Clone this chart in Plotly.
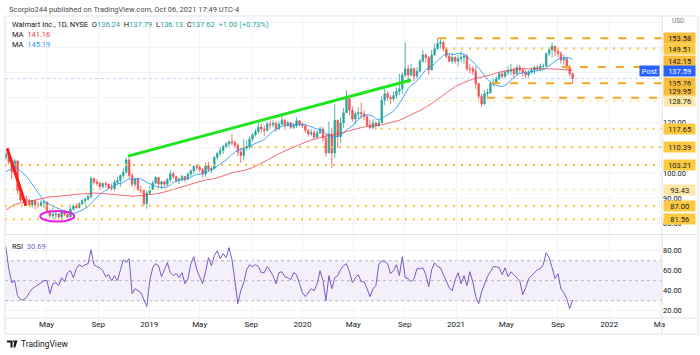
import pandas as pd
import plotly.graph_objects as go

# ---------------- data (weekly bars) ----------------
week_start = "2018-01-24"

# closes before the visible window, only used to warm up the moving averages
pre_close = [75.5, 75.8, 75.5, 78.5, 79.5, 79.0, 78.5, 77.5, 75.5, 75.6,
             75.5, 77.0, 76.5, 79.5, 80.5, 80.5, 80.5, 78.5, 78.0, 79.5,
             79.5, 80.0, 78.0, 80.0, 86.0, 86.5, 87.0, 88.0, 89.5, 97.0,
             97.5, 97.5, 96.0, 98.0, 99.5, 99.0, 100.5, 103.0, 106.0]

close = [107.5, 104.6, 100.5, 104.8, 93.0, 89.3, 89.5, 89.2, 87.3, 89.0,
         87.4, 87.0, 88.3, 88.5, 85.0, 83.0, 83.5, 83.7, 82.5, 84.5,
         83.5, 82.5, 85.6, 86.8, 86.3, 87.7, 89.0, 89.5, 90.6, 97.8,
         96.4, 95.9, 94.6, 95.8, 95.5, 94.0, 93.8, 96.3, 97.0, 99.0,
         100.3, 105.2, 99.0, 95.5, 97.6, 93.5, 93.0, 87.8, 92.0, 93.5,
         96.0, 98.2, 95.6, 96.5, 95.5, 97.3, 99.7, 98.6, 97.0, 97.5,
         98.6, 97.6, 99.6, 100.8, 102.6, 102.3, 101.3, 99.6, 102.8, 101.3,
         101.8, 106.2, 107.8, 109.0, 110.5, 111.6, 112.4, 112.0, 111.0, 108.3,
         107.0, 110.0, 110.5, 113.5, 115.2, 116.5, 118.3, 117.5, 117.0, 119.5,
         119.2, 119.8, 117.6, 119.5, 121.0, 119.2, 120.0, 118.2, 118.8, 120.8,
         119.3, 118.8, 117.0, 115.5, 116.0, 114.3, 116.0, 117.5, 114.0, 108.0,
         115.5, 108.0, 121.0, 114.5, 120.0, 124.0, 129.5, 125.0, 121.5, 123.5,
         124.0, 123.5, 122.5, 119.0, 118.0, 119.8, 118.8, 120.0, 129.0, 131.5,
         130.0, 129.5, 130.8, 132.5, 133.5, 139.0, 141.5, 139.0, 141.5, 138.5,
         140.5, 144.5, 147.0, 146.0, 141.0, 147.0, 149.5, 151.5, 152.0, 149.5,
         146.5, 144.5, 146.0, 144.5, 145.5, 146.0, 146.5, 141.5, 141.5, 140.5,
         135.5, 130.5, 127.5, 131.5, 132.0, 135.5, 136.0, 137.5, 139.5, 138.5,
         140.0, 140.5, 141.0, 139.5, 142.0, 141.0, 140.0, 139.0, 140.0, 141.0,
         142.0, 141.5, 142.5, 142.5, 147.5, 149.0, 150.5, 148.5, 147.5, 145.0,
         145.5, 142.0, 139.5, 137.62]

high = [108.6, 110.0, 106.0, 105.5, 105.0, 93.5, 90.8, 91.0, 89.5, 89.3,
        89.0, 88.5, 89.2, 89.0, 88.5, 85.5, 86.4, 84.5, 84.0, 85.0,
        85.3, 84.0, 86.5, 87.5, 88.0, 88.4, 89.5, 90.2, 91.5, 98.6,
        98.2, 97.6, 96.4, 96.2, 96.6, 95.8, 95.8, 97.2, 98.5, 99.5,
        101.8, 106.2, 106.0, 100.0, 98.0, 98.2, 95.0, 93.5, 93.0, 94.8,
        97.0, 98.6, 98.3, 96.8, 97.0, 98.0, 101.1, 100.5, 99.0, 98.2,
        99.2, 98.8, 100.2, 101.5, 103.2, 103.6, 103.0, 102.0, 104.2, 104.5,
        102.5, 106.8, 108.5, 110.2, 111.2, 112.2, 113.0, 115.5, 113.0, 111.8,
        110.0, 113.5, 113.0, 114.5, 115.8, 117.5, 120.0, 119.5, 119.0, 120.5,
        120.8, 121.0, 120.5, 120.5, 123.5, 121.5, 120.8, 120.2, 120.0, 122.2,
        121.0, 120.2, 119.0, 117.2, 117.5, 117.2, 117.0, 118.5, 118.5, 115.5,
        120.5, 118.0, 127.5, 121.0, 122.0, 126.0, 133.0, 130.5, 126.5, 124.5,
        126.0, 128.0, 125.0, 123.0, 121.0, 121.5, 120.5, 121.5, 130.5, 133.5,
        132.5, 131.0, 132.5, 134.0, 139.5, 140.0, 152.0, 143.0, 143.5, 142.0,
        142.0, 145.5, 149.0, 147.5, 146.5, 149.0, 151.5, 153.7, 153.3, 152.5,
        150.0, 147.5, 147.5, 146.5, 147.0, 148.5, 147.5, 147.5, 143.5, 142.5,
        142.5, 136.0, 131.5, 133.0, 133.5, 136.5, 137.5, 138.5, 140.5, 140.5,
        141.0, 142.5, 143.5, 142.0, 143.0, 143.0, 141.5, 141.0, 141.0, 142.0,
        142.8, 143.0, 143.5, 143.5, 148.0, 150.0, 152.0, 150.5, 149.5, 148.5,
        147.0, 146.0, 143.0, 140.0]

low = [105.0, 103.5, 97.5, 100.0, 91.5, 88.5, 88.0, 88.5, 86.3, 86.2,
       85.6, 86.2, 86.6, 86.0, 84.0, 82.0, 81.9, 81.8, 81.8, 82.0,
       82.8, 81.8, 82.3, 85.0, 85.8, 86.0, 87.3, 87.6, 89.0, 89.8,
       95.4, 95.0, 93.4, 93.8, 94.2, 93.6, 93.0, 92.8, 95.0, 94.5,
       97.8, 100.0, 98.0, 94.5, 94.5, 92.8, 91.8, 86.8, 85.8, 91.3,
       93.5, 95.5, 94.3, 93.6, 94.5, 94.8, 96.4, 97.6, 96.2, 95.6,
       96.5, 96.4, 97.4, 98.8, 99.8, 101.0, 100.5, 98.2, 98.5, 100.8,
       100.0, 101.5, 105.3, 106.8, 107.5, 110.0, 110.2, 111.0, 109.8, 106.8,
       104.0, 105.0, 109.0, 109.5, 112.5, 114.5, 115.8, 116.2, 114.8, 116.3,
       117.5, 118.2, 116.5, 117.0, 118.8, 117.2, 118.5, 117.5, 117.5, 118.0,
       118.5, 118.0, 116.0, 114.5, 114.8, 113.5, 113.8, 115.5, 112.5, 106.5,
       108.0, 102.0, 106.0, 110.0, 112.0, 118.0, 124.0, 123.0, 120.5, 119.5,
       121.5, 121.5, 121.0, 118.3, 117.5, 117.5, 117.2, 118.5, 120.0, 127.0,
       128.5, 127.5, 128.5, 129.5, 131.0, 131.5, 138.0, 135.5, 138.5, 136.5,
       137.5, 140.0, 144.0, 144.0, 139.0, 141.0, 146.5, 149.0, 149.5, 148.5,
       145.5, 144.0, 143.5, 143.5, 142.5, 144.0, 143.5, 140.5, 139.5, 139.0,
       133.5, 129.5, 126.3, 127.0, 130.0, 131.5, 134.5, 135.5, 137.0, 137.5,
       138.0, 139.0, 139.0, 137.5, 139.0, 139.5, 138.5, 137.5, 138.0, 139.5,
       139.5, 140.5, 140.5, 141.5, 142.5, 146.5, 146.0, 146.5, 146.0, 143.5,
       143.0, 141.0, 138.5, 135.5]

rsi = [84, 62, 48, 50, 35, 31, 31, 33, 38, 42,
       44, 46, 48, 50, 50, 37, 47, 48, 45, 53,
       49, 58, 60, 53, 62, 66, 64, 66, 67, 81,
       66, 64, 63, 60, 54, 56, 50, 55, 50, 61,
       71, 68, 72, 37, 42, 40, 38, 31, 24, 50,
       63, 67, 65, 54, 62, 68, 58, 55, 57, 53,
       58, 47, 52, 67, 74, 61, 54, 47, 59, 73,
       65, 75, 80, 72, 77, 73, 83, 71, 50, 27,
       40, 48, 61, 66, 64, 66, 64, 58, 58, 64,
       60, 55, 47, 58, 59, 54, 53, 51, 58, 56,
       47, 38, 34, 38, 42, 40, 47, 60, 50, 30,
       55, 42, 53, 55, 61, 65, 67, 59,
       48, 53, 56, 49, 49, 42, 34, 42, 45, 66,
       70, 69, 67, 57, 60, 66, 55, 74, 53, 52,
       49, 52, 62, 62, 63, 56, 44, 61, 68, 64,
       63, 56, 49, 43, 40, 51, 58, 47, 55, 45,
       59, 49, 34, 27, 39, 47, 54, 59, 64, 64,
       63, 56, 63, 54, 59, 56, 53, 50, 36, 43,
       52, 55, 58, 61, 62, 66, 78, 73, 63, 52,
       57, 42, 38, 32, 22, 30.69]

tick_dates = ["2018-05-01", "2018-09-01", "2019-01-01", "2019-05-01", "2019-09-01",
              "2020-01-01", "2020-05-01", "2020-09-01", "2021-01-01", "2021-05-01",
              "2021-09-01", "2022-01-01", "2022-05-01"]
tick_text = ["May", "Sep", "2019", "May", "Sep", "2020", "May", "Sep", "2021",
             "May", "Sep", "2022", "Ma"]
price_ticks = [80, 90, 100, 120]
price_grid = [80, 90, 100, 110, 120, 130, 140, 150, 160]
rsi_ticks = [20, 40, 60, 80]

# horizontal support / resistance levels and the date each one starts
level_prices = [153.58, 149.51, 142.15, 135.76, 129.95, 128.76, 117.65,
                110.39, 103.21, 93.43, 87.00, 81.56]
level_starts = ["2020-11-20", "2020-12-06", "2021-09-10", "2021-03-28", "2021-03-16",
                "2020-08-14", "2020-07-05", "2019-08-12", "2018-01-22", "2018-01-22",
                "2018-01-22", "2018-01-22"]

post_price = 137.59

red_trend_dates = ["2018-01-27", "2018-03-13"]
red_trend_prices = [109.8, 87.0]
green_trend_dates = ["2018-11-11", "2020-09-16"]
green_trend_prices = [106.7, 137.0]
ellipse_dates = ["2018-04-16", "2018-07-06"]
ellipse_prices = [80.7, 84.9]

# ---------------- styling ----------------
x_range = ["2018-01-22", "2022-05-07"]
price_range = [76.12, 162.48]
rsi_range = [12.7, 94.7]

W, H = 700, 355
ML, MR, MT, MB = 5, 38, 16, 37
FONT = "Roboto, 'Liberation Sans', Arial, sans-serif"
TXT = "#131722"
GRID = "#f0f3fa"
FRAME = "#e0e3eb"


def px(x):
    return (x - ML) / (W - ML - MR)


def py(y):
    return (H - MB - y) / (H - MT - MB)


DASH_LINE, DOT_LINE, LIGHT_LINE = "#f6a623", "#fbc02d", "#fde3a0"
DASH_BOX, DOT_BOX, LIGHT_BOX = "#f8bd3c", "#fcca40", "#fee7a6"
level_style = {153.58: "dash", 149.51: "dot", 142.15: "dash", 135.76: "dash",
               129.95: "dash", 128.76: "light", 117.65: "dot", 110.39: "dot",
               103.21: "dot", 93.43: "light", 87.00: "dot", 81.56: "dot"}
label_shift = {142.15: 6.4, 129.95: 7.0}

# ---------------- derived table ----------------
dates = pd.date_range(week_start, periods=len(close), freq="W-WED")
all_close = pd.Series(pre_close + close, dtype=float)
n_pre = len(pre_close)
open_ = all_close.shift(1).iloc[n_pre:].tolist()     # each weekly bar opens at the prior close
ma_fast = all_close.rolling(10).mean().iloc[n_pre:].tolist()   # ~50-day MA
ma_slow = all_close.rolling(40).mean().iloc[n_pre:].tolist()   # ~200-day MA

fig = go.Figure()

fig.add_trace(go.Scatter(x=dates, y=ma_slow, mode="lines", xaxis="x", yaxis="y",
                         line=dict(color="rgba(242,54,69,0.75)", width=1), hoverinfo="skip"))
fig.add_trace(go.Scatter(x=dates, y=ma_fast, mode="lines", xaxis="x", yaxis="y",
                         line=dict(color="rgba(33,150,243,0.85)", width=1), hoverinfo="skip"))
fig.add_trace(go.Candlestick(x=dates, open=open_, high=high, low=low, close=close,
                             xaxis="x", yaxis="y",
                             increasing=dict(line=dict(color="#26a69a", width=0.8), fillcolor="#26a69a"),
                             decreasing=dict(line=dict(color="#ef5350", width=0.8), fillcolor="#ef5350"),
                             whiskerwidth=0, hoverinfo="skip"))
fig.add_trace(go.Scatter(x=dates, y=rsi, mode="lines", xaxis="x2", yaxis="y2",
                         line=dict(color="#7e57c2", width=1), hoverinfo="skip"))

shapes = []
# faint price grid
for g in price_grid:
    shapes.append(dict(type="line", xref="paper", x0=0, x1=1, yref="y", y0=g, y1=g,
                       line=dict(color=GRID, width=1), layer="below"))
# RSI band and levels
shapes.append(dict(type="rect", xref="paper", x0=0, x1=1, yref="y2", y0=30, y1=70,
                   fillcolor="rgba(126,87,194,0.09)", line=dict(width=0), layer="below"))
for lv in (70, 50, 30):
    shapes.append(dict(type="line", xref="paper", x0=0, x1=1, yref="y2", y0=lv, y1=lv,
                       line=dict(color="#b2b5be", width=1, dash="3px,3px"), layer="below"))

# horizontal price levels
for p, s in zip(level_prices, level_starts):
    kind = level_style[p]
    if kind == "dash":
        ln = dict(color=DASH_LINE, width=2, dash="8px,10px")
    elif kind == "dot":
        ln = dict(color=DOT_LINE, width=2, dash="2px,6px")
    else:
        ln = dict(color=LIGHT_LINE, width=2, dash="2px,6px")
    shapes.append(dict(type="line", xref="x", x0=s, x1=x_range[1], yref="y", y0=p, y1=p, line=ln))

# post-market price line
shapes.append(dict(type="line", xref="paper", x0=0, x1=1, yref="y", y0=post_price, y1=post_price,
                   line=dict(color="rgba(41,98,255,0.3)", width=1, dash="dot")))

# drawings
shapes.append(dict(type="line", xref="x", yref="y",
                   x0=red_trend_dates[0], x1=red_trend_dates[1],
                   y0=red_trend_prices[0], y1=red_trend_prices[1],
                   line=dict(color="#ff1a1a", width=3)))
shapes.append(dict(type="line", xref="x", yref="y",
                   x0=green_trend_dates[0], x1=green_trend_dates[1],
                   y0=green_trend_prices[0], y1=green_trend_prices[1],
                   line=dict(color="#1ee61e", width=3)))
shapes.append(dict(type="circle", xref="x", yref="y",
                   x0=ellipse_dates[0], x1=ellipse_dates[1],
                   y0=ellipse_prices[0], y1=ellipse_prices[1],
                   line=dict(color="#e61ee6", width=2)))

# frame
fr = dict(xref="paper", yref="paper", line=dict(color=FRAME, width=1))
shapes.append(dict(type="rect", x0=px(5), x1=px(698), y0=py(16), y1=py(334), **fr))
shapes.append(dict(type="line", x0=px(662), x1=px(662), y0=py(16), y1=py(334), **fr))
shapes.append(dict(type="line", x0=px(5), x1=px(698), y0=py(234.5), y1=py(234.5), **fr))
shapes.append(dict(type="line", x0=px(5), x1=px(698), y0=py(318), y1=py(318), **fr))

# TradingView logo glyph
shapes.append(dict(type="path", xref="paper", yref="paper",
                   path=f"M {px(7)},{py(340.5)} L {px(12.5)},{py(340.5)} L {px(12.5)},{py(347.5)} "
                        f"L {px(10.5)},{py(347.5)} L {px(10.5)},{py(342.5)} L {px(7)},{py(342.5)} Z",
                   fillcolor=TXT, line=dict(width=0)))
shapes.append(dict(type="path", xref="paper", yref="paper",
                   path=f"M {px(14.5)},{py(340.5)} L {px(17.5)},{py(340.5)} L {px(15.2)},{py(347.5)} "
                        f"L {px(13.4)},{py(347.5)} Z",
                   fillcolor=TXT, line=dict(width=0)))
shapes.append(dict(type="circle", xref="paper", yref="paper",
                   x0=px(12.9), x1=px(14.5), y0=py(340.5), y1=py(342.2),
                   fillcolor=TXT, line=dict(width=0)))

ann = []


def txt(x, y, text, size=7.5, color=TXT, xanchor="left"):
    ann.append(dict(xref="paper", yref="paper", x=px(x), y=py(y), text=text, showarrow=False,
                    xanchor=xanchor, yanchor="middle", font=dict(size=size, color=color, family=FONT)))


txt(6.5, 9.3, "Scorpio244 published on TradingView.com, Oct 06, 2021 17:49 UTC-4", 7.5, "#4a4a4a")
G = "#26a69a"
txt(10, 24.7, "Walmart Inc., 1D, NYSE&nbsp; O<span style='color:%s'>136.24</span>&nbsp; "
              "H<span style='color:%s'>137.79</span>&nbsp; L<span style='color:%s'>136.13</span>&nbsp; "
              "C<span style='color:%s'>137.62</span>&nbsp; <span style='color:%s'>+1.00 (+0.73%%)</span>"
    % (G, G, G, G, G), 7.5)
txt(10, 34.3, "MA&nbsp; <span style='color:#f23645'>141.16</span>", 7.5)
txt(10, 44.3, "MA&nbsp; <span style='color:#2196f3'>145.19</span>", 7.5)
txt(10, 246.7, "RSI&nbsp; <span style='color:#7e57c2'>30.69</span>", 7.5)
txt(19, 344, "TradingView", 8.5, "#131722")
txt(670, 21, "USD", 6.5, "#787b86")


def axis_label(price, text, bg, fg=TXT, shift=0.0):
    ann.append(dict(xref="paper", x=px(662.5), xanchor="left", yref="y", y=price,
                    yanchor="middle", yshift=shift, text=text, showarrow=False,
                    bgcolor=bg, borderpad=1.2, width=29, height=8, align="center",
                    font=dict(size=7.5, color=fg, family=FONT)))


for p in level_prices:
    kind = level_style[p]
    bg = DASH_BOX if kind == "dash" else (DOT_BOX if kind == "dot" else LIGHT_BOX)
    axis_label(p, f"{p:.2f}", bg, shift=label_shift.get(p, 0.0))
axis_label(post_price, f"{post_price:.2f}", "#2962ff", "white", 7.8)
ann.append(dict(xref="paper", x=px(660), xanchor="right", yref="y", y=post_price,
                yanchor="middle", yshift=7.8, text="Post", showarrow=False,
                bgcolor="#2962ff", borderpad=1.2, width=17, height=8,
                font=dict(size=7.5, color="white", family=FONT)))

fig.update_layout(
    width=W, height=H, margin=dict(l=ML, r=MR, t=MT, b=MB),
    paper_bgcolor="white", plot_bgcolor="white", showlegend=False,
    font=dict(family=FONT, size=8, color=TXT),
    xaxis=dict(domain=[0, 1], anchor="y", type="date", range=x_range,
               tickvals=tick_dates, showticklabels=False, showgrid=True, gridcolor=GRID,
               zeroline=False, showline=False, ticks="", rangeslider=dict(visible=False)),
    yaxis=dict(domain=[py(233), 1], anchor="x", side="right", range=price_range,
               tickvals=price_ticks, tickformat=".2f", showgrid=False,
               zeroline=False, showline=False, ticks="",
               tickfont=dict(size=7.5, color=TXT)),
    xaxis2=dict(domain=[0, 1], anchor="y2", type="date", matches="x", range=x_range,
                tickvals=tick_dates, ticktext=tick_text, showgrid=True, gridcolor=GRID,
                zeroline=False, showline=False, ticks="",
                tickfont=dict(size=8, color=TXT)),
    yaxis2=dict(domain=[0, py(236)], anchor="x2", side="right", range=rsi_range,
                tickvals=rsi_ticks, tickformat=".2f", showgrid=True, gridcolor=GRID,
                zeroline=False, showline=False, ticks="",
                tickfont=dict(size=7.5, color=TXT)),
    shapes=shapes, annotations=ann, hovermode=False,
)

fig.write_html("out.html", config={"displayModeBar": False},
               post_script="document.body.style.margin='0px';document.body.style.overflow='hidden';")
